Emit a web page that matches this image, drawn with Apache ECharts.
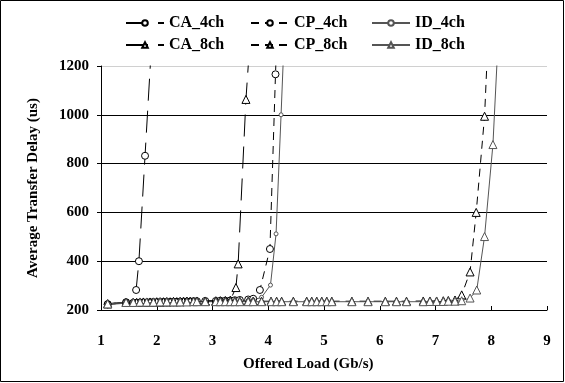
<!DOCTYPE html>
<html>
<head>
<meta charset="utf-8">
<script src="https://cdn.jsdelivr.net/npm/echarts@6/dist/echarts.min.js"></script>
<style>html,body{margin:0;padding:0;background:#fff}#c{width:565px;height:383px}</style>
</head>
<body>
<div id="c"></div>
<script>
// ---- data ----
const xTicks = [1, 2, 3, 4, 5, 6, 7, 8, 9];
const yTicks = [200, 400, 600, 800, 1000, 1200];

const CA_4ch_x = [1.12, 1.45, 1.63, 1.68, 1.79, 1.95];
const CA_4ch_y = [224, 232, 282, 400, 832, 1460];

const CA_8ch_x = [1.12, 1.45, 1.58, 1.64, 1.70, 1.76, 1.82, 1.88, 1.94, 2.00, 2.06, 2.12, 2.18, 2.24, 2.30, 2.36, 2.42, 2.48, 2.54, 2.60, 2.66, 2.72, 2.87, 3.06, 3.14, 3.23, 3.32, 3.42, 3.46, 3.60, 3.70];
const CA_8ch_y = [225, 232, 232, 231, 232, 233, 232, 233, 233, 234, 233, 234, 234, 234, 235, 234, 235, 235, 236, 236, 236, 237, 237, 238, 238, 239, 240, 292, 389, 1063, 1400];

const CP_4ch_x = [1.12, 1.45, 1.58, 1.64, 1.70, 1.76, 1.82, 1.88, 1.94, 2.00, 2.06, 2.12, 2.18, 2.24, 2.30, 2.36, 2.42, 2.48, 2.54, 2.60, 2.66, 2.72, 2.87, 3.06, 3.14, 3.23, 3.32, 3.40, 3.49, 3.64, 3.73, 3.85, 4.03, 4.13, 4.18];
const CP_4ch_y = [223, 229, 230, 230, 231, 231, 231, 232, 232, 232, 233, 233, 233, 233, 234, 234, 234, 235, 235, 235, 236, 236, 237, 237, 238, 238, 239, 240, 241, 243, 246, 282, 450, 1166, 1500];

const ID_4ch_x = [1.12, 1.45, 1.58, 1.64, 1.70, 1.76, 1.82, 1.88, 1.94, 2.00, 2.06, 2.12, 2.18, 2.24, 2.30, 2.36, 2.42, 2.48, 2.54, 2.60, 2.66, 2.72, 2.87, 3.06, 3.14, 3.23, 3.32, 3.40, 3.49, 3.64, 3.73, 3.88, 4.04, 4.14, 4.23, 4.30];
const ID_4ch_y = [222, 228, 229, 229, 230, 230, 230, 231, 231, 231, 232, 232, 232, 232, 233, 233, 233, 233, 234, 234, 234, 235, 235, 236, 236, 236, 237, 237, 238, 239, 241, 252, 302, 512, 1000, 1400];

const CP_8ch_x = [1.12, 1.45, 1.58, 1.70, 1.82, 1.94, 2.06, 2.18, 2.30, 2.42, 2.54, 2.66, 2.72, 2.87, 3.06, 3.14, 3.23, 3.32, 3.40, 3.49, 3.64, 3.73, 3.88, 4.05, 4.15, 4.24, 4.45, 4.69, 4.78, 4.87, 4.96, 5.05, 5.14, 5.50, 5.79, 6.10, 6.30, 6.48, 6.78, 6.90, 7.02, 7.14, 7.23, 7.35, 7.47, 7.62, 7.73, 7.88, 7.98];
const CP_8ch_y = [226, 232, 232, 233, 233, 233, 234, 234, 234, 234, 235, 235, 235, 235, 235, 235, 235, 236, 236, 236, 236, 236, 236, 236, 236, 236, 236, 236, 236, 236, 236, 236, 236, 236, 236, 236, 236, 236, 237, 237, 237, 238, 239, 241, 262, 356, 600, 994, 1510];

const ID_8ch_x = [1.12, 1.45, 1.58, 1.70, 1.82, 1.94, 2.06, 2.18, 2.30, 2.42, 2.54, 2.66, 2.72, 2.87, 3.06, 3.14, 3.23, 3.32, 3.40, 3.49, 3.64, 3.73, 3.88, 4.05, 4.15, 4.24, 4.45, 4.69, 4.78, 4.87, 4.96, 5.05, 5.14, 5.50, 5.79, 6.10, 6.30, 6.48, 6.78, 6.90, 7.02, 7.14, 7.23, 7.35, 7.47, 7.62, 7.74, 7.88, 8.03, 8.15];
const ID_8ch_y = [225, 231, 231, 232, 232, 232, 233, 233, 233, 233, 233, 234, 234, 234, 234, 234, 234, 234, 234, 234, 234, 234, 234, 234, 234, 234, 234, 234, 234, 234, 234, 234, 234, 234, 234, 234, 234, 234, 234, 235, 235, 235, 236, 236, 238, 249, 282, 501, 878, 1430];

// ---- chart ----
const FONT = '"Liberation Serif", "Times New Roman", serif';
const pair = (xs, ys) => xs.map((x, i) => [x, ys[i]]);

function mkSeries(name, xs, ys, opt) {
  return {
    name: name, type: 'line', data: pair(xs, ys),
    symbol: opt.symbol, symbolSize: opt.size, showSymbol: true,
    clip: true, animation: false,
    itemStyle: { color: '#fff', borderColor: opt.color, borderWidth: 1 },
    lineStyle: { color: opt.color, width: opt.width, type: opt.dash },
    emphasis: { disabled: true }
  };
}

const series = [
  mkSeries('CA_4ch', CA_4ch_x, CA_4ch_y, { symbol: 'circle', size: 7, color: '#000', width: 1, dash: [22, 10] }),
  mkSeries('CP_4ch', CP_4ch_x, CP_4ch_y, { symbol: 'circle', size: 7, color: '#000', width: 1, dash: [8, 6] }),
  mkSeries('ID_4ch', ID_4ch_x, ID_4ch_y, { symbol: 'circle', size: 4, color: '#555', width: 1, dash: 'solid' }),
  mkSeries('CA_8ch', CA_8ch_x, CA_8ch_y, { symbol: 'triangle', size: 8, color: '#000', width: 1, dash: [22, 10] }),
  mkSeries('CP_8ch', CP_8ch_x, CP_8ch_y, { symbol: 'triangle', size: 8, color: '#000', width: 1, dash: [8, 6] }),
  mkSeries('ID_8ch', ID_8ch_x, ID_8ch_y, { symbol: 'triangle', size: 8, color: '#555', width: 1, dash: 'solid' })
];

function leg(name, left, top) {
  return {
    data: [{ name: name, textStyle: { color: '#000' } }], left: left, top: top, itemWidth: 38, itemHeight: 7, itemGap: 0,
    textStyle: { fontFamily: FONT, fontWeight: 'bold', fontSize: 16, color: '#000' },
    selectedMode: false
  };
}

const chart = echarts.init(document.getElementById('c'), null, { renderer: 'canvas' });
chart.setOption({
  backgroundColor: '#fff',
  animation: false,
  grid: { left: 101, right: 18, top: 66, bottom: 73 },
  legend: [
    leg('CA_4ch', 120, 10), leg('CP_4ch', 245, 10), leg('ID_4ch', 366, 10),
    leg('CA_8ch', 120, 32), leg('CP_8ch', 245, 32), leg('ID_8ch', 366, 32)
  ],
  xAxis: {
    type: 'value', min: xTicks[0], max: xTicks[xTicks.length - 1], interval: 1,
    axisLine: { show: true, onZero: false, lineStyle: { color: '#000', width: 1 } },
    axisTick: { show: true, inside: true, length: 4, lineStyle: { color: '#000' } },
    axisLabel: { margin: 24, fontFamily: FONT, fontWeight: 'bold', fontSize: 15, color: '#000', formatter: v => String(v) },
    splitLine: { show: false }
  },
  yAxis: {
    type: 'value', min: yTicks[0], max: yTicks[yTicks.length - 1], interval: 200,
    axisLine: { show: true, lineStyle: { color: '#000', width: 1 } },
    axisTick: { show: true, inside: false, length: 4, lineStyle: { color: '#000' } },
    axisLabel: { margin: 12, fontFamily: FONT, fontWeight: 'bold', fontSize: 15, color: '#000', formatter: v => String(v) },
    splitLine: { show: true, lineStyle: { color: ['#000', '#000', '#000', '#000', '#000', '#d0d0d0'], width: 1 } }
  },
  series: series,
  graphic: [
    { type: 'rect', shape: { x: 0.5, y: 0.5, width: 563, height: 381 }, style: { fill: 'none', stroke: '#000', lineWidth: 1 }, silent: true },
    { type: 'text', left: 243, top: 357, style: { text: 'Offered Load (Gb/s)', font: 'bold 15px ' + FONT, fill: '#000' } },
    { type: 'text', x: 33, y: 188, rotation: Math.PI / 2, style: { text: 'Average Transfer Delay (us)', font: 'bold 15px ' + FONT, fill: '#000', align: 'center', verticalAlign: 'middle' } }
  ]
});
</script>
</body>
</html>
